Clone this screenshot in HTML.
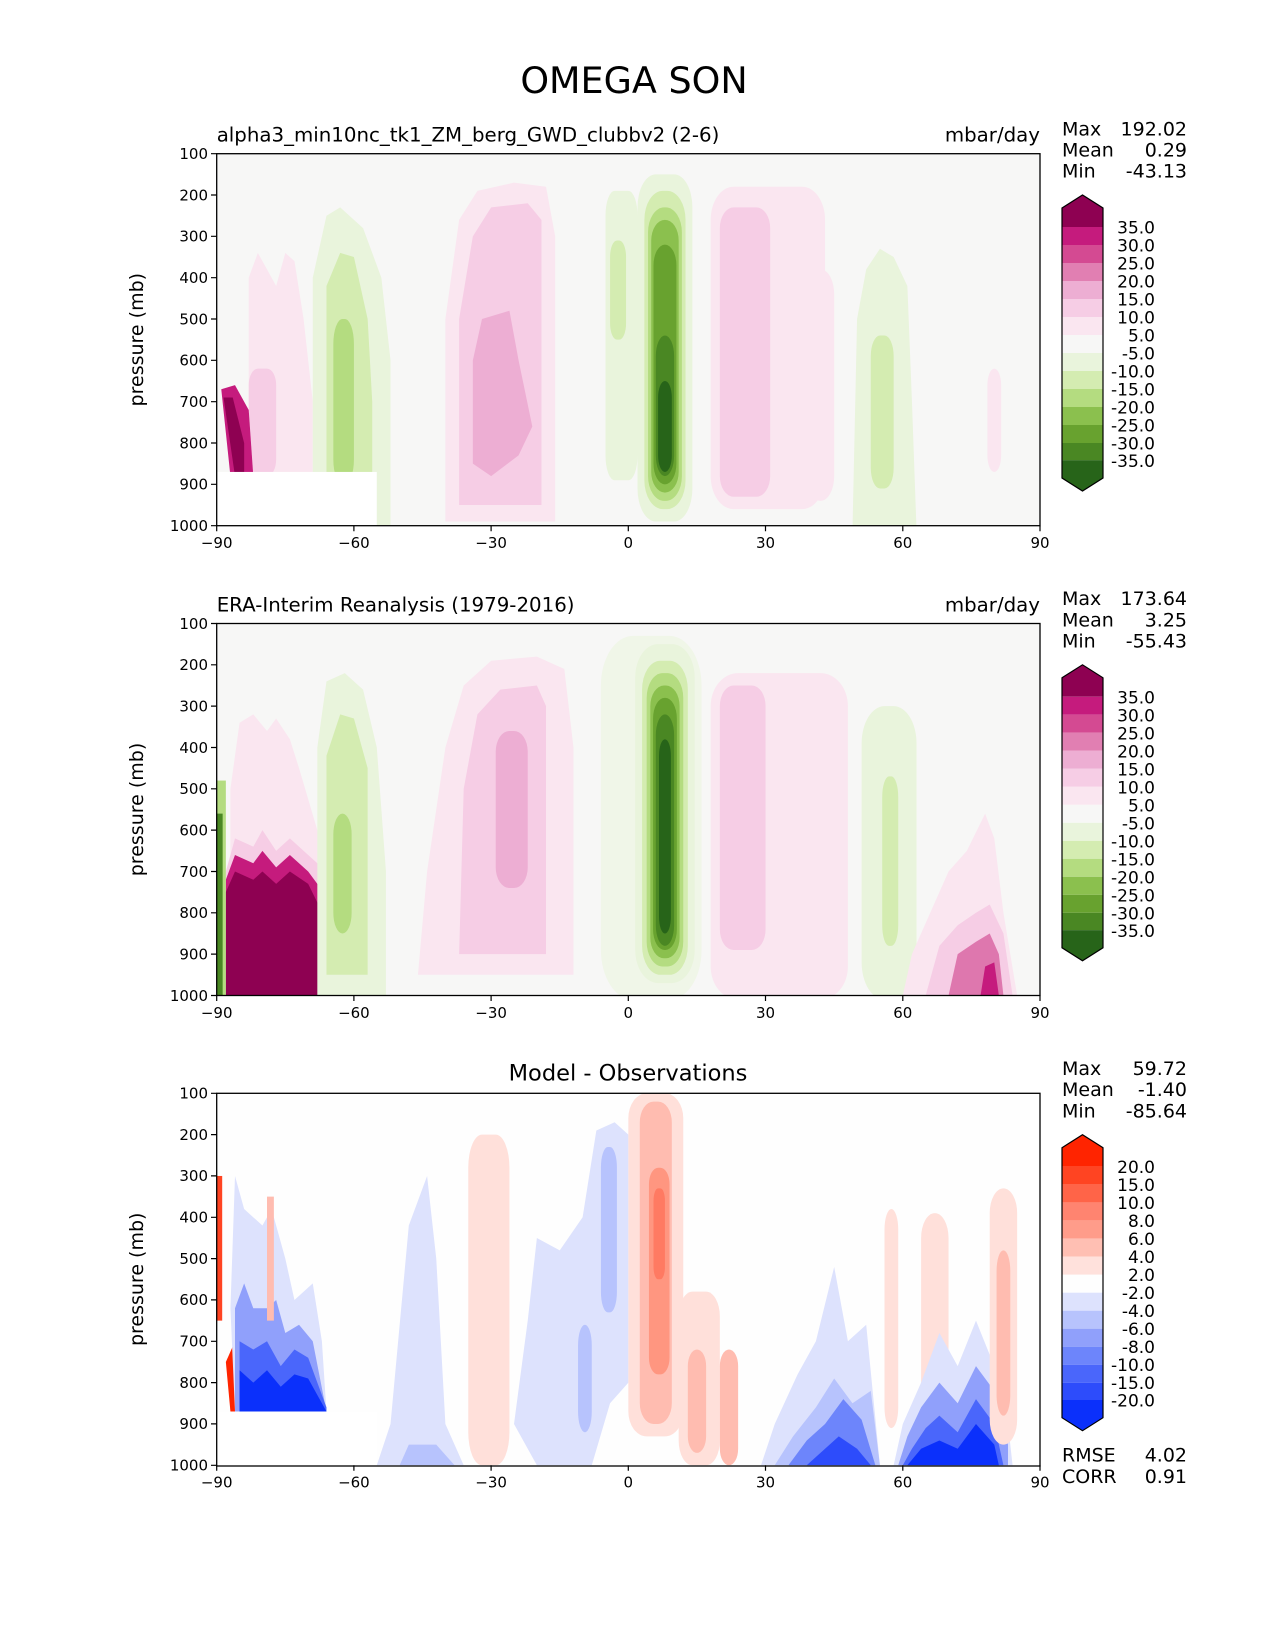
<!DOCTYPE html>
<html><head><meta charset="utf-8"><style>
body{margin:0;background:#fff}
svg{display:block}
text{font-family:"DejaVu Sans","Liberation Sans",sans-serif;fill:#000}
</style></head><body>
<svg width="1275" height="1650" viewBox="0 0 1275 1650" xmlns="http://www.w3.org/2000/svg">
<defs>
<clipPath id="c"><rect x="-90" y="100" width="180" height="900"/></clipPath>
</defs>
<text x="634" y="93" font-size="36.5" text-anchor="middle">OMEGA SON</text>

<!-- PANEL 1 -->
<g transform="translate(216.7,153.7) scale(4.574,0.4133) translate(90,-100)" clip-path="url(#c)">
<rect x="-90" y="100" width="180" height="900" fill="#f7f7f6"/>
<path d="M-83,880 L-83,400 L-81,340 L-79,380 L-77,420 L-75,340 L-73,360 L-71,500 L-69,700 L-69,880 Z" fill="#fae6f0"/>
<rect x="-83" y="620" width="6" height="260" rx="2" ry="40" fill="#f6cde5"/>
<path d="M-89,670 L-86,660 L-83,720 L-82,880 L-87,880 Z" fill="#c51b7d"/>
<path d="M-88.5,690 L-86.5,690 L-84,800 L-84,880 L-86,880 Z" fill="#8e0152"/>
<path d="M-69,1000 L-69,400 L-66,250 L-63,230 L-58,280 L-54,400 L-52,600 L-52,1000 Z" fill="#e9f4dc"/>
<path d="M-66,950 L-66,420 L-63,340 L-60,350 L-57,500 L-56,700 L-56,950 Z" fill="#d4ecb1"/>
<rect x="-64.5" y="500" width="4.5" height="400" rx="2" ry="60" fill="#b4dc80"/>
<rect x="-90" y="870" width="35" height="140" fill="#ffffff"/>
<path d="M-40,990 L-40,500 L-37,260 L-33,190 L-25,170 L-18,180 L-16,300 L-16,990 Z" fill="#fae6f0"/>
<path d="M-37,950 L-37,500 L-34,300 L-30,230 L-22,220 L-19,260 L-19,950 Z" fill="#f6cde5"/>
<path d="M-32,500 L-26,480 L-24,600 L-21,760 L-24,830 L-30,880 L-34,850 L-34,600 Z" fill="#edaed3"/>
<rect x="-5" y="190" width="7" height="700" rx="2" ry="60" fill="#e9f4dc"/>
<rect x="-4" y="310" width="3.5" height="240" rx="1.5" ry="40" fill="#d4ecb1"/>
<rect x="2" y="150" width="12" height="840" rx="4" ry="80" fill="#e9f4dc"/>
<rect x="3.5" y="190" width="9" height="770" rx="4" ry="70" fill="#d4ecb1"/>
<rect x="4.3" y="230" width="7.4" height="710" rx="3.5" ry="60" fill="#b4dc80"/>
<rect x="5" y="260" width="6" height="660" rx="3" ry="50" fill="#8bc04e"/>
<rect x="5.5" y="320" width="5" height="580" rx="2.5" ry="50" fill="#68a22f"/>
<rect x="6" y="540" width="4" height="340" rx="2" ry="50" fill="#4a8723"/>
<rect x="6.5" y="650" width="3" height="220" rx="1.5" ry="40" fill="#276419"/>
<rect x="18" y="180" width="25" height="780" rx="5" ry="80" fill="#fae6f0"/>
<rect x="20" y="230" width="11" height="700" rx="3" ry="50" fill="#f6cde5"/>
<rect x="39" y="380" width="6" height="560" rx="3" ry="60" fill="#fae6f0"/>
<path d="M49,1010 L50,500 L52,380 L55,330 L58,350 L61,420 L62,700 L63,1010 Z" fill="#e9f4dc"/>
<rect x="53" y="540" width="5" height="370" rx="2" ry="50" fill="#d4ecb1"/>
<rect x="78.5" y="620" width="3" height="250" rx="1.5" ry="40" fill="#fae6f0"/>
</g>
<rect x="216.7" y="153.7" width="823.3" height="372" fill="none" stroke="#000" stroke-width="1.3"/>

<!-- PANEL 2 -->
<g transform="translate(216.7,623.5) scale(4.574,0.4133) translate(90,-100)" clip-path="url(#c)">
<rect x="-90" y="100" width="180" height="900" fill="#f7f7f6"/>
<path d="M-87,1000 L-87,500 L-85,340 L-82,320 L-79,360 L-77,330 L-74,380 L-72,450 L-68,600 L-66,1000 Z" fill="#fae6f0"/>
<path d="M-88,700 L-86,620 L-82,640 L-80,600 L-77,650 L-74,620 L-70,660 L-67,690 L-66,1000 L-88,1000 Z" fill="#f6cde5"/>
<path d="M-88,720 L-86,660 L-82,680 L-80,650 L-77,690 L-74,660 L-70,700 L-66,760 L-66,1000 L-88,1000 Z" fill="#c51b7d"/>
<path d="M-88,750 L-86,700 L-82,720 L-80,700 L-77,730 L-74,700 L-70,730 L-66,820 L-65,1000 L-88,1000 Z" fill="#8e0152"/>
<rect x="-90" y="480" width="2" height="520" fill="#b4dc80"/>
<rect x="-90" y="560" width="1.3" height="440" fill="#4a8723"/>
<path d="M-68,1000 L-68,400 L-66,240 L-62,220 L-58,260 L-55,400 L-53,700 L-53,1000 Z" fill="#e9f4dc"/>
<path d="M-66,950 L-66,420 L-63,320 L-60,330 L-57,450 L-57,950 Z" fill="#d4ecb1"/>
<rect x="-64.5" y="560" width="4" height="290" rx="2" ry="50" fill="#b4dc80"/>
<path d="M-46,950 L-44,700 L-40,400 L-36,250 L-30,190 L-20,180 L-14,210 L-12,400 L-12,950 Z" fill="#fae6f0"/>
<path d="M-37,900 L-36,500 L-33,320 L-28,260 L-20,250 L-18,300 L-18,900 Z" fill="#f6cde5"/>
<rect x="-29" y="360" width="7" height="380" rx="3" ry="50" fill="#edaed3"/>
<rect x="-6" y="130" width="22" height="880" rx="7" ry="120" fill="#f0f6e8"/>
<rect x="1.5" y="150" width="13" height="820" rx="5" ry="80" fill="#e9f4dc"/>
<rect x="3" y="190" width="10" height="760" rx="4" ry="70" fill="#d4ecb1"/>
<rect x="4" y="220" width="8" height="710" rx="3.5" ry="60" fill="#b4dc80"/>
<rect x="4.8" y="250" width="6.4" height="660" rx="3" ry="50" fill="#8bc04e"/>
<rect x="5.4" y="280" width="5.2" height="610" rx="2.5" ry="50" fill="#68a22f"/>
<rect x="6" y="320" width="4" height="560" rx="2" ry="50" fill="#4a8723"/>
<rect x="6.7" y="380" width="2.6" height="470" rx="1.3" ry="40" fill="#276419"/>
<rect x="18" y="220" width="30" height="790" rx="6" ry="80" fill="#fae6f0"/>
<rect x="20" y="250" width="10" height="640" rx="3" ry="50" fill="#f6cde5"/>
<rect x="51" y="300" width="12" height="710" rx="5" ry="90" fill="#e9f4dc"/>
<rect x="55.5" y="470" width="3.5" height="410" rx="1.5" ry="50" fill="#d4ecb1"/>
<path d="M60,1000 L62,900 L66,800 L70,700 L74,650 L78,560 L80,620 L82,800 L85,1000 Z" fill="#fae6f0"/>
<path d="M65,1000 L68,880 L72,830 L76,800 L79,780 L82,850 L84,1000 Z" fill="#f6cde5"/>
<path d="M70,1000 L72,900 L76,870 L79,850 L81,900 L82,1000 Z" fill="#de77ae"/>
<path d="M77,1000 L78,930 L80,920 L81,1000 Z" fill="#c51b7d"/>
</g>
<rect x="216.7" y="623.5" width="823.3" height="372" fill="none" stroke="#000" stroke-width="1.3"/>

<!-- PANEL 3 -->
<g transform="translate(216.7,1093.3) scale(4.574,0.4133) translate(90,-100)" clip-path="url(#c)">
<rect x="-90" y="100" width="180" height="900" fill="#fefefe"/>
<rect x="-90" y="300" width="1.2" height="350" fill="#ff4422"/>
<path d="M-87,870 L-88,750 L-86,700 L-86,870 Z" fill="#ff2400"/>
<path d="M-87,620 L-86,300 L-84,380 L-80,420 L-78,380 L-75,500 L-73,600 L-69,560 L-67,700 L-66,870 L-86,870 Z" fill="#dde2fd"/>
<path d="M-86,870 L-86,620 L-84,560 L-82,620 L-79,620 L-77,600 L-75,680 L-72,660 L-69,700 L-66,870 Z" fill="#90a0fb"/>
<path d="M-85,870 L-85,700 L-82,720 L-79,700 L-76,760 L-73,720 L-70,740 L-66,860 L-66,870 Z" fill="#4a66fb"/>
<path d="M-85,870 L-85,770 L-82,800 L-79,770 L-76,810 L-73,780 L-70,790 L-66,870 Z" fill="#0b30fb"/>
<rect x="-79" y="350" width="1.5" height="300" fill="#ffbcb0"/>
<rect x="-90" y="870" width="35" height="140" fill="#ffffff"/>
<path d="M-55,1000 L-52,900 L-48,420 L-44,300 L-42,500 L-40,900 L-36,1000 Z" fill="#dde2fd"/>
<path d="M-50,1000 L-48,950 L-42,950 L-38,1000 Z" fill="#b7c3fd"/>
<rect x="-35" y="200" width="9" height="800" rx="3" ry="80" fill="#ffe0da"/>
<path d="M-25,900 L-22,650 L-20,450 L-15,480 L-10,400 L-7,190 L-3,170 L0,200 L0,800 L-4,850 L-8,1000 L-20,1000 Z" fill="#dde2fd"/>
<rect x="-6" y="230" width="3.5" height="400" rx="1.5" ry="50" fill="#b7c3fd"/>
<rect x="-11" y="660" width="3" height="260" rx="1.5" ry="50" fill="#b7c3fd"/>
<rect x="0" y="100" width="12" height="830" rx="4" ry="60" fill="#ffe0da"/>
<rect x="2.5" y="120" width="7" height="780" rx="3" ry="50" fill="#ffbcb0"/>
<rect x="4.5" y="280" width="4.5" height="500" rx="2" ry="40" fill="#ff9680"/>
<rect x="5.5" y="330" width="2.5" height="220" rx="1" ry="30" fill="#ff7a62"/>
<rect x="11" y="580" width="9" height="420" rx="3" ry="60" fill="#ffe0da"/>
<rect x="13" y="720" width="4" height="250" rx="2" ry="40" fill="#ffbcb0"/>
<rect x="20" y="720" width="4" height="280" rx="2" ry="40" fill="#ffbcb0"/>
<path d="M29,1000 L32,900 L37,780 L41,700 L45,520 L48,700 L52,660 L55,1000 Z" fill="#dde2fd"/>
<path d="M32,1000 L36,930 L41,860 L45,790 L49,850 L53,820 L55,1000 Z" fill="#b7c3fd"/>
<path d="M35,1000 L39,940 L43,900 L47,840 L51,890 L54,1000 Z" fill="#6d85fb"/>
<path d="M39,1000 L42,970 L46,930 L50,960 L53,1000 Z" fill="#2d4cfb"/>
<rect x="56" y="380" width="3" height="530" rx="1.5" ry="50" fill="#ffe0da"/>
<rect x="64" y="390" width="6" height="520" rx="3" ry="60" fill="#ffe0da"/>
<path d="M58,1000 L60,900 L64,800 L68,680 L72,760 L76,650 L80,760 L83,900 L84,1000 Z" fill="#dde2fd"/>
<path d="M59,1000 L61,930 L64,860 L68,800 L72,850 L76,760 L80,820 L83,950 L83,1000 Z" fill="#90a0fb"/>
<path d="M60,1000 L62,960 L65,910 L68,880 L72,920 L76,840 L80,900 L82,1000 Z" fill="#4a66fb"/>
<path d="M61,1000 L64,960 L68,940 L72,960 L76,900 L80,950 L81,1000 Z" fill="#0b30fb"/>
<rect x="79" y="330" width="6" height="620" rx="3" ry="60" fill="#ffe0da"/>
<rect x="80.5" y="480" width="3" height="400" rx="1.5" ry="50" fill="#ffbcb0"/>
</g>
<rect x="216.7" y="1093.3" width="823.3" height="372.7" fill="none" stroke="#000" stroke-width="1.3"/>

<g>
<text x="216.7" y="141.7" font-size="19.8">alpha3_min10nc_tk1_ZM_berg_GWD_clubbv2 (2-6)</text>
<text x="1040" y="141.7" font-size="19.8" text-anchor="end">mbar/day</text>
<text x="216.7" y="611.5" font-size="19.8">ERA-Interim Reanalysis (1979-2016)</text>
<text x="1040" y="611.5" font-size="19.8" text-anchor="end">mbar/day</text>
<text x="628" y="1080.7" font-size="22.5" text-anchor="middle">Model - Observations</text>
</g>

<g id="ax1" font-size="15">
<g text-anchor="end">
<text x="208" y="159">100</text><text x="208" y="200.3">200</text><text x="208" y="241.6">300</text><text x="208" y="283">400</text><text x="208" y="324.3">500</text><text x="208" y="365.6">600</text><text x="208" y="407">700</text><text x="208" y="448.3">800</text><text x="208" y="489.6">900</text><text x="208" y="531">1000</text>
</g>
<g text-anchor="middle">
<text x="216.7" y="548">−90</text><text x="353.9" y="548">−60</text><text x="491.1" y="548">−30</text><text x="628.3" y="548">0</text><text x="765.5" y="548">30</text><text x="902.8" y="548">60</text><text x="1040" y="548">90</text>
</g>
<g stroke="#000" stroke-width="1.2">
<path d="M211,153.7h5.7M211,195h5.7M211,236.3h5.7M211,277.7h5.7M211,319h5.7M211,360.3h5.7M211,401.7h5.7M211,443h5.7M211,484.3h5.7M211,525.7h5.7"/>
<path d="M216.7,525.7v5.5M353.9,525.7v5.5M491.1,525.7v5.5M628.3,525.7v5.5M765.5,525.7v5.5M902.8,525.7v5.5M1040,525.7v5.5"/>
</g>
<text transform="translate(143,339.7) rotate(-90)" font-size="19" text-anchor="middle">pressure (mb)</text>
</g>
<use href="#ax1" transform="translate(0,469.8)"/>
<use href="#ax1" transform="translate(0,939.6)"/>

<g font-size="19">
<text x="1062" y="135.3">Max</text><text x="1187" y="135.3" text-anchor="end">192.02</text>
<text x="1062" y="156.5">Mean</text><text x="1187" y="156.5" text-anchor="end">0.29</text>
<text x="1062" y="177.7">Min</text><text x="1187" y="177.7" text-anchor="end">-43.13</text>
<text x="1062" y="605.1">Max</text><text x="1187" y="605.1" text-anchor="end">173.64</text>
<text x="1062" y="626.3">Mean</text><text x="1187" y="626.3" text-anchor="end">3.25</text>
<text x="1062" y="647.5">Min</text><text x="1187" y="647.5" text-anchor="end">-55.43</text>
<text x="1062" y="1075">Max</text><text x="1187" y="1075" text-anchor="end">59.72</text>
<text x="1062" y="1096.2">Mean</text><text x="1187" y="1096.2" text-anchor="end">-1.40</text>
<text x="1062" y="1117.4">Min</text><text x="1187" y="1117.4" text-anchor="end">-85.64</text>
<text x="1062" y="1461.7">RMSE</text><text x="1187" y="1461.7" text-anchor="end">4.02</text>
<text x="1062" y="1483">CORR</text><text x="1187" y="1483" text-anchor="end">0.91</text>
</g>

<g id="cb1">
<path d="M1062,208 L1082.5,195 L1103,208 L1103,227 L1062,227 Z" fill="#8e0152"/>
<rect x="1062" y="227" width="41" height="18" fill="#c51b7d"/>
<rect x="1062" y="245" width="41" height="18" fill="#d44a92"/>
<rect x="1062" y="263" width="41" height="18" fill="#e17fb2"/>
<rect x="1062" y="281" width="41" height="18" fill="#edaed3"/>
<rect x="1062" y="299" width="41" height="18" fill="#f6cde5"/>
<rect x="1062" y="317" width="41" height="18" fill="#fae6f0"/>
<rect x="1062" y="335" width="41" height="18" fill="#f7f7f6"/>
<rect x="1062" y="353" width="41" height="18" fill="#e9f4dc"/>
<rect x="1062" y="371" width="41" height="18" fill="#d4ecb1"/>
<rect x="1062" y="389" width="41" height="18" fill="#b4dc80"/>
<rect x="1062" y="407" width="41" height="18" fill="#8bc04e"/>
<rect x="1062" y="425" width="41" height="18" fill="#68a22f"/>
<rect x="1062" y="443" width="41" height="17.3" fill="#4a8723"/>
<path d="M1062,460.3 L1103,460.3 L1103,478 L1082.5,491 L1062,478 Z" fill="#276419"/>
<path d="M1062,208 L1082.5,195 L1103,208 L1103,478 L1082.5,491 L1062,478 Z" fill="none" stroke="#000" stroke-width="1.2"/>
<g font-size="17" text-anchor="end">
<text x="1155" y="233.5">35.0</text><text x="1155" y="251.5">30.0</text><text x="1155" y="269.5">25.0</text><text x="1155" y="287.5">20.0</text><text x="1155" y="305.5">15.0</text><text x="1155" y="323.5">10.0</text><text x="1155" y="341.5">5.0</text><text x="1155" y="359.5">-5.0</text><text x="1155" y="377.5">-10.0</text><text x="1155" y="395.5">-15.0</text><text x="1155" y="413.5">-20.0</text><text x="1155" y="431.5">-25.0</text><text x="1155" y="449.5">-30.0</text><text x="1155" y="467">-35.0</text>
</g>
</g>
<use href="#cb1" transform="translate(0,469.8)"/>

<g transform="translate(0,939.7)">
<path d="M1062,208 L1082.5,195 L1103,208 L1103,227 L1062,227 Z" fill="#ff2400"/>
<rect x="1062" y="227" width="41" height="18" fill="#ff4422"/>
<rect x="1062" y="245" width="41" height="18" fill="#ff6448"/>
<rect x="1062" y="263" width="41" height="18" fill="#ff8470"/>
<rect x="1062" y="281" width="41" height="18" fill="#ff9c8a"/>
<rect x="1062" y="299" width="41" height="18" fill="#ffbfb3"/>
<rect x="1062" y="317" width="41" height="18" fill="#ffe1dc"/>
<rect x="1062" y="335" width="41" height="18" fill="#fefefe"/>
<rect x="1062" y="353" width="41" height="18" fill="#dde2fd"/>
<rect x="1062" y="371" width="41" height="18" fill="#b7c3fd"/>
<rect x="1062" y="389" width="41" height="18" fill="#90a0fb"/>
<rect x="1062" y="407" width="41" height="18" fill="#6d85fb"/>
<rect x="1062" y="425" width="41" height="18" fill="#4a66fb"/>
<rect x="1062" y="443" width="41" height="17.3" fill="#2d4cfb"/>
<path d="M1062,460.3 L1103,460.3 L1103,478 L1082.5,491 L1062,478 Z" fill="#0b30fb"/>
<path d="M1062,208 L1082.5,195 L1103,208 L1103,478 L1082.5,491 L1062,478 Z" fill="none" stroke="#000" stroke-width="1.2"/>
<g font-size="17" text-anchor="end">
<text x="1155" y="233.5">20.0</text><text x="1155" y="251.5">15.0</text><text x="1155" y="269.5">10.0</text><text x="1155" y="287.5">8.0</text><text x="1155" y="305.5">6.0</text><text x="1155" y="323.5">4.0</text><text x="1155" y="341.5">2.0</text><text x="1155" y="359.5">-2.0</text><text x="1155" y="377.5">-4.0</text><text x="1155" y="395.5">-6.0</text><text x="1155" y="413.5">-8.0</text><text x="1155" y="431.5">-10.0</text><text x="1155" y="449.5">-15.0</text><text x="1155" y="467">-20.0</text>
</g>
</g>
</svg>
</body></html>
